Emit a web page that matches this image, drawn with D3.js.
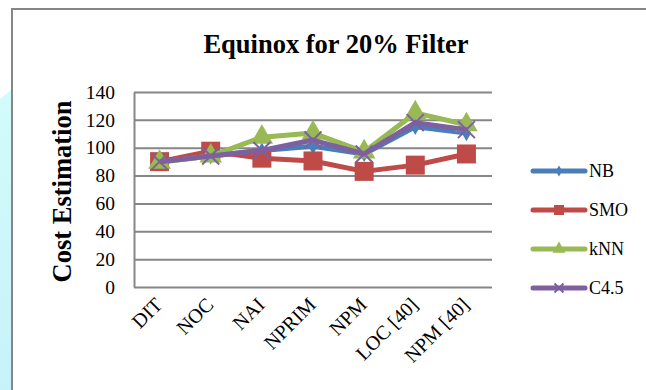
<!DOCTYPE html>
<html>
<head>
<meta charset="utf-8">
<script src="https://cdn.jsdelivr.net/npm/d3@7"></script>
<style>
  html, body { margin: 0; padding: 0; background: #fff; }
  svg { display: block; }
</style>
</head>
<body>
<svg id="chart" width="646" height="390"></svg>
<script>
// Metrics on the x axis
const categories = ["DIT", "NOC", "NAI", "NPRIM", "NPM", "LOC [40]", "NPM [40]"];

// Cost estimation per classifier
const nbValues   = [90, 94, 98, 101, 95.5, 115, 110.5];
const smoValues  = [90, 97.5, 92.5, 90.5, 83, 87.5, 95.5];
const knnValues  = [89.5, 94, 107.5, 110.5, 97, 125, 116.5];
const c45Values  = [90, 94, 98, 105.5, 95.5, 118, 113];

const seriesNames = ["NB", "SMO", "kNN", "C4.5"];
const yTicks = [0, 20, 40, 60, 80, 100, 120, 140];

const series = [
  { name: seriesNames[0], values: nbValues,  color: "#4a7ebb", marker: "diamond" },
  { name: seriesNames[1], values: smoValues, color: "#be4b48", marker: "square" },
  { name: seriesNames[2], values: knnValues, color: "#98b954", marker: "triangle" },
  { name: seriesNames[3], values: c45Values, color: "#7d60a0", marker: "cross" }
];

const svg = d3.select("#chart");
const serif = "'Liberation Serif', 'Times New Roman', serif";

// Left-edge backdrop strip
const bg = svg.append("defs").append("linearGradient")
  .attr("id", "strip").attr("x1", 0).attr("y1", 0).attr("x2", 0).attr("y2", 1);
bg.append("stop").attr("offset", "0%").attr("stop-color", "#d2fbfb");
bg.append("stop").attr("offset", "100%").attr("stop-color", "#c8f2fa");
svg.append("path")
  .attr("d", "M0,99 L12,89 L12,390 L0,390 Z")
  .attr("fill", "url(#strip)");

// Chart frame
svg.append("rect")
  .attr("x", 12).attr("y", 9).attr("width", 660).attr("height", 400)
  .attr("fill", "#fff").attr("stroke", "#868686").attr("stroke-width", 2);

const plot = { left: 134, right: 492, top: 92, bottom: 287 };

const x = d3.scaleBand().domain(categories).range([plot.left, plot.right]);
const cx = c => x(c) + x.bandwidth() / 2;
const y = d3.scaleLinear().domain([0, 140]).range([plot.bottom, plot.top]);

// Horizontal gridlines
svg.append("g")
  .attr("transform", `translate(${plot.left},0)`)
  .call(d3.axisRight(y).tickValues(yTicks).tickSize(plot.right - plot.left).tickFormat(""))
  .call(g => g.select(".domain").remove())
  .call(g => g.selectAll("line").attr("stroke", "#868686").attr("stroke-width", 2));

// Value axis: line and labels
svg.append("g")
  .attr("transform", `translate(${plot.left},0)`)
  .call(d3.axisLeft(y).tickValues(yTicks).tickSize(0).tickPadding(19))
  .call(g => g.select(".domain").attr("stroke", "#868686").attr("stroke-width", 2))
  .call(g => g.selectAll("text")
    .attr("font-family", serif).attr("font-size", 19.5).attr("fill", "#000"));

// Category labels, slanted
svg.append("g")
  .attr("transform", `translate(0,${plot.bottom})`)
  .call(d3.axisBottom(x).tickSize(0).tickPadding(0))
  .call(g => g.select(".domain").remove())
  .call(g => g.selectAll("text")
    .attr("font-family", serif).attr("font-size", 20).attr("fill", "#000")
    .attr("text-anchor", "end")
    .attr("y", 0)
    .attr("dy", null)
    .attr("transform", "translate(4,19) rotate(-45)"));

// Titles
svg.append("text")
  .attr("x", 336).attr("y", 53)
  .attr("text-anchor", "middle")
  .attr("font-family", serif).attr("font-weight", "bold").attr("font-size", 26.5)
  .text("Equinox for 20% Filter");

svg.append("text")
  .attr("transform", `translate(71,${(plot.top + plot.bottom) / 2 + 2}) rotate(-90)`)
  .attr("text-anchor", "middle")
  .attr("font-family", serif).attr("font-weight", "bold").attr("font-size", 26.5)
  .text("Cost Estimation");

// Marker shapes
function drawMarker(g, type, color, size) {
  if (type === "cross") {
    const h = size / 2;
    g.append("path")
      .attr("d", `M${-h},${-h}L${h},${h}M${-h},${h}L${h},${-h}`)
      .attr("stroke", color).attr("stroke-width", 2).attr("fill", "none");
    return;
  }
  const sym = { diamond: d3.symbolDiamond, square: d3.symbolSquare, triangle: d3.symbolTriangle }[type];
  const area = { diamond: size * size * 0.45, square: size * size, triangle: size * size * 0.5 }[type];
  g.append("path")
    .attr("d", d3.symbol().type(sym).size(area)())
    .attr("fill", color);
}

const markerSize = { diamond: 13, square: 19, triangle: 21, cross: 17 };

const line = d3.line().x((d, i) => cx(categories[i])).y(d => y(d));

series.forEach(s => {
  const g = svg.append("g");
  g.append("path")
    .attr("d", line(s.values))
    .attr("fill", "none").attr("stroke", s.color)
    .attr("stroke-width", 5).attr("stroke-linejoin", "round");
  s.values.forEach((v, i) => {
    const m = g.append("g").attr("transform", `translate(${cx(categories[i])},${y(v)})`);
    drawMarker(m, s.marker, s.color, markerSize[s.marker]);
  });
});

// Legend
const legendRows = [171, 210, 249, 288];
const legendSize = { diamond: 9, square: 10, triangle: 12, cross: 9 };
series.forEach((s, i) => {
  const g = svg.append("g").attr("transform", `translate(0,${legendRows[i]})`);
  g.append("line")
    .attr("x1", 533).attr("x2", 585).attr("y1", 0).attr("y2", 0)
    .attr("stroke", s.color).attr("stroke-width", 5).attr("stroke-linecap", "round");
  const m = g.append("g").attr("transform", "translate(559,0)");
  drawMarker(m, s.marker, s.color, legendSize[s.marker]);
  g.append("text")
    .attr("x", 589).attr("y", 0).attr("dy", "0.35em")
    .attr("font-family", serif).attr("font-size", 18).attr("fill", "#000")
    .text(s.name);
});
</script>
</body>
</html>
